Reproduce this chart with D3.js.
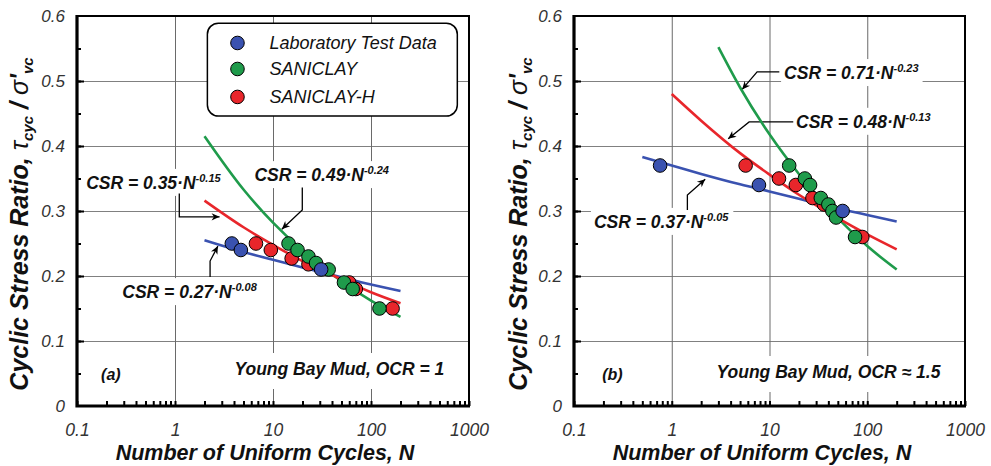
<!DOCTYPE html>
<html><head><meta charset="utf-8">
<script src="https://cdn.jsdelivr.net/npm/d3@7"></script>
<style>body{margin:0;background:#fff} svg{display:block;font-family:"Liberation Sans",Arial,sans-serif}</style>
</head><body><svg id="c" width="991" height="466"></svg>
<script>
// ---------------- data ----------------
const legendLabels = ["Laboratory Test Data", "SANICLAY", "SANICLAY-H"];
const xTickValues = [0.1, 1, 10, 100, 1000];
const xTickLabels = ["0.1", "1", "10", "100", "1000"];
const yTickValues = [0, 0.1, 0.2, 0.3, 0.4, 0.5, 0.6];
const yTickLabels = ["0", "0.1", "0.2", "0.3", "0.4", "0.5", "0.6"];
const panelTags = ["(a)", "(b)"];
const panelSoils = ["Young Bay Mud, OCR = 1", "Young Bay Mud, OCR \u2248 1.5"];

// Panel (a) measured points
const aLabN = [3.8, 4.7, 31];
const aLabCSR = [0.25, 0.24, 0.21];
const aSanN = [14.4, 17.8, 23, 27.5, 37, 53, 65, 122];
const aSanCSR = [0.25, 0.24, 0.23, 0.22, 0.21, 0.19, 0.18, 0.15];
const aSanHN = [6.7, 9.5, 15.5, 23, 60, 70, 166];
const aSanHCSR = [0.25, 0.24, 0.227, 0.218, 0.19, 0.18, 0.15];
// Panel (a) fitted curves
const aLabFitN = [2, 5, 10, 20, 50, 100, 200];
const aLabFit = [0.255, 0.237, 0.225, 0.213, 0.198, 0.187, 0.177];
const aSanFitN = [2, 5, 10, 20, 50, 100, 200];
const aSanFit = [0.415, 0.333, 0.282, 0.239, 0.192, 0.162, 0.137];
const aSanHFitN = [2, 5, 10, 20, 50, 100, 200];
const aSanHFit = [0.316, 0.275, 0.248, 0.223, 0.195, 0.175, 0.158];

// Panel (b) measured points
const bLabN = [0.76, 7.8, 56];
const bLabCSR = [0.37, 0.34, 0.30];
const bSanN = [15.9, 23, 26, 33.5, 40, 44, 48, 75];
const bSanCSR = [0.37, 0.35, 0.34, 0.32, 0.31, 0.30, 0.29, 0.26];
const bSanHN = [5.7, 12.5, 18.6, 27.5, 36, 89];
const bSanHCSR = [0.37, 0.35, 0.34, 0.32, 0.31, 0.26];
// Panel (b) fitted curves
const bLabFitN = [0.5, 1, 2, 5, 10, 20, 50, 100, 200];
const bLabFit = [0.383, 0.370, 0.357, 0.341, 0.330, 0.319, 0.304, 0.294, 0.284];
const bSanFitN = [3, 5, 10, 20, 50, 100, 200];
const bSanFit = [0.552, 0.490, 0.418, 0.357, 0.289, 0.246, 0.210];
const bSanHFitN = [1, 2, 5, 10, 20, 50, 100, 200];
const bSanHFit = [0.480, 0.439, 0.389, 0.356, 0.325, 0.289, 0.264, 0.241];

// Fit equation labels
const aFitText = ["CSR = 0.27\u00B7N", "CSR = 0.49\u00B7N", "CSR = 0.35\u00B7N"];
const aFitExp = ["-0.08", "-0.24", "-0.15"];
const bFitText = ["CSR = 0.37\u00B7N", "CSR = 0.71\u00B7N", "CSR = 0.48\u00B7N"];
const bFitExp = ["-0.05", "-0.23", "-0.13"];

// ---------------- styles / layout ----------------
const colors = ["#3a52b0", "#1f9b4b", "#e8262b"];
const svg = d3.select("#c");
const Y0 = 406, Y1 = 16;

svg.append("defs").append("marker")
  .attr("id", "arr").attr("viewBox", "0 0 10 10").attr("refX", 10).attr("refY", 5)
  .attr("markerWidth", 10).attr("markerHeight", 8).attr("markerUnits", "userSpaceOnUse")
  .attr("orient", "auto")
  .append("path").attr("d", "M0,0.5 L10,5 L0,9.5 L3,5 z").attr("fill", "#000");

const panels = [
  { x0: 77, x1: 469, ytx: 28,
    pts: [[aLabN, aLabCSR], [aSanN, aSanCSR], [aSanHN, aSanHCSR]],
    fits: [[aLabFitN, aLabFit], [aSanFitN, aSanFit], [aSanHFitN, aSanHFit]],
    ann: [
      { t: aFitText[2], s: aFitExp[2], at: [0.124, 0.334], lead: [[1.106, 0.327], [1.106, 0.291], [2.85, 0.291]] },
      { t: aFitText[1], s: aFitExp[1], at: [6.47, 0.346], lead: [[19.9, 0.336], [19.9, 0.3015], [12.3, 0.272]] },
      { t: aFitText[0], s: aFitExp[0], at: [0.29, 0.166], lead: [[2.28, 0.1985], [2.28, 0.223], [2.74, 0.246]] }
    ], tag: panelTags[0], soil: panelSoils[0], legend: true },
  { x0: 574, x1: 965, ytx: 527,
    pts: [[bLabN, bLabCSR], [bSanN, bSanCSR], [bSanHN, bSanHCSR]],
    fits: [[bLabFitN, bLabFit], [bSanFitN, bSanFit], [bSanHFitN, bSanHFit]],
    ann: [
      { t: bFitText[1], s: bFitExp[1], at: [14.1, 0.503], lead: [[12.6, 0.514], [7.47, 0.514], [5.25, 0.487]] },
      { t: bFitText[2], s: bFitExp[2], at: [18.7, 0.428], lead: [[17.5, 0.437], [6.19, 0.437], [3.78, 0.411]] },
      { t: bFitText[0], s: bFitExp[0], at: [0.16, 0.274], lead: [[1.445, 0.3015], [1.445, 0.3246], [2.2, 0.349]] }
    ], tag: panelTags[1], soil: panelSoils[1], legend: false }
];

panels.forEach(p => {
  const x = d3.scaleLog().domain([0.1, 1000]).range([p.x0, p.x1]);
  const y = d3.scaleLinear().domain([0, 0.6]).range([Y0, Y1]);
  const g = svg.append("g");
  const pw = p.x1 - p.x0, ph = Y0 - Y1;

  // gridlines
  const gh = g.append("g").attr("transform", `translate(${p.x0},0)`)
    .call(d3.axisLeft(y).tickValues(yTickValues.slice(1, 6)).tickSize(-pw).tickFormat(""));
  gh.select(".domain").remove();
  gh.selectAll("line").attr("stroke", "#808080").attr("stroke-width", 1);
  const gv = g.append("g").attr("transform", `translate(0,${Y0})`)
    .call(d3.axisBottom(x).tickValues(xTickValues.slice(1, 4)).tickSize(-ph).tickFormat(""));
  gv.select(".domain").remove();
  gv.selectAll("line").attr("stroke", "#6a6a6a").attr("stroke-width", 1);

  // annotation white boxes + texts (boxes hide gridlines)
  const annG = g.append("g");
  function boxedText(gg, node, padL, padR, padT, padB) {
    const b = node.getBBox();
    gg.insert("rect", ":first-child").attr("x", b.x - padL).attr("y", b.y - padT)
      .attr("width", b.width + padL + padR).attr("height", b.height + padT + padB).attr("fill", "#fff");
  }
  p.ann.forEach(a => {
    const tg = annG.append("g");
    const t = tg.append("text").attr("x", x(a.at[0])).attr("y", y(a.at[1]))
      .attr("font-size", 17.5).attr("font-weight", "bold").attr("font-style", "italic").attr("fill", "#111");
    t.append("tspan").text(a.t);
    t.append("tspan").attr("dy", -7).attr("font-size", 11).text(a.s);
    boxedText(tg, t.node(), 3, 4, 3, 3);
  });
  // panel tag & soil text
  const sg = g.append("g");
  const st = sg.append("text").attr("x", x(560)).attr("y", y(0.0477) + (p.legend ? 0 : 3))
    .attr("text-anchor", "end").attr("font-size", 17.5).attr("font-weight", "bold")
    .attr("font-style", "italic").attr("fill", "#111").text(p.soil);
  boxedText(sg, st.node(), 4, 4, 6, 10);
  g.append("text").attr("x", x(p.legend ? 0.176 : 0.194)).attr("y", y(0.04))
    .attr("font-size", 16).attr("font-weight", "bold").attr("font-style", "italic").attr("fill", "#111").text(p.tag);

  // leaders
  const lineGen = d3.line().x(d => x(d[0])).y(d => y(d[1]));
  p.ann.forEach(a => {
    g.append("path").attr("d", lineGen(a.lead)).attr("fill", "none").attr("stroke", "#000")
      .attr("stroke-width", 1.3).attr("marker-end", "url(#arr)");
  });

  // legend
  if (p.legend) {
    const lg = g.append("g");
    lg.append("rect").attr("x", x(2.14)).attr("y", y(0.589)).attr("width", x(760) - x(2.14))
      .attr("height", y(0.446) - y(0.589)).attr("rx", 11).attr("fill", "#fff")
      .attr("stroke", "#000").attr("stroke-width", 1.5);
    const ly = [0.5585, 0.5185, 0.4755];
    legendLabels.forEach((L, i) => {
      lg.append("circle").attr("cx", x(4.34)).attr("cy", y(ly[i])).attr("r", 6.8)
        .attr("fill", colors[i]).attr("stroke", "#000").attr("stroke-width", 1);
      lg.append("text").attr("x", x(9.2)).attr("y", y(ly[i]) + 6).attr("font-size", 18)
        .attr("font-style", "italic").attr("fill", "#111").text(L);
    });
  }

  // fitted curves
  const curve = d3.line().x(d => x(d[0])).y(d => y(d[1])).curve(d3.curveMonotoneX);
  p.fits.forEach((f, i) => {
    g.append("path").attr("d", curve(f[0].map((n, k) => [n, f[1][k]])))
      .attr("fill", "none").attr("stroke", colors[i]).attr("stroke-width", 2.6);
  });

  // points: red, green, blue draw order
  [2, 1, 0].forEach(i => {
    const [ns, vs] = p.pts[i];
    g.append("g").selectAll("circle").data(ns.map((n, k) => [n, vs[k]])).join("circle")
      .attr("cx", d => x(d[0])).attr("cy", d => y(d[1])).attr("r", 6.8)
      .attr("fill", colors[i]).attr("stroke", "#000").attr("stroke-width", 1);
  });

  // ticks (inward)
  const tl = g.append("g").attr("transform", `translate(${p.x0},0)`)
    .call(d3.axisLeft(y).tickValues(d3.range(1, 12).map(k => k * 0.05)).tickSize(-4).tickFormat(""));
  tl.select(".domain").remove();
  tl.selectAll("line").attr("stroke-width", 2);
  const tlm = g.append("g").attr("transform", `translate(${p.x0},0)`)
    .call(d3.axisLeft(y).tickValues(yTickValues.slice(1, 6)).tickSize(-7).tickFormat(""));
  tlm.select(".domain").remove();
  tlm.selectAll("line").attr("stroke-width", 2);
  const tb = g.append("g").attr("transform", `translate(0,${Y0})`)
    .call(d3.axisBottom(x).tickValues(x.ticks()).tickSize(-5).tickFormat(""));
  tb.select(".domain").remove();
  tb.selectAll("line").attr("stroke-width", 2);

  // frame
  g.append("rect").attr("x", p.x0).attr("y", Y1).attr("width", pw).attr("height", ph)
    .attr("fill", "none").attr("stroke", "#000").attr("stroke-width", 2);
  g.append("path").attr("d", `M${p.x0},${Y1 - 1}V${Y0}H${p.x1 + 1}`).attr("fill", "none")
    .attr("stroke", "#000").attr("stroke-width", 3.2);

  // tick labels
  const yl = g.append("g").attr("transform", `translate(${p.x0},0)`)
    .call(d3.axisLeft(y).tickValues(yTickValues).tickFormat((d, i) => yTickLabels[i]).tickSize(0).tickPadding(12));
  yl.select(".domain").remove();
  yl.selectAll("text").attr("font-size", 17).attr("font-style", "italic").attr("fill", "#333")
    .attr("font-family", '"Liberation Sans",Arial,sans-serif');
  const xl = g.append("g").attr("transform", `translate(0,${Y0})`)
    .call(d3.axisBottom(x).tickValues(xTickValues).tickFormat((d, i) => xTickLabels[i]).tickSize(0).tickPadding(18));
  xl.select(".domain").remove();
  xl.selectAll("text").attr("font-size", 17.5).attr("font-style", "italic").attr("fill", "#333")
    .attr("font-family", '"Liberation Sans",Arial,sans-serif');

  // axis titles
  g.append("text").attr("x", p.x0 + 188).attr("y", 460).attr("text-anchor", "middle")
    .attr("font-size", 21.5).attr("font-weight", "bold").attr("font-style", "italic").attr("fill", "#111")
    .text("Number of Uniform Cycles, N");
  const yt = g.append("text").attr("transform", `translate(${p.ytx},224) rotate(-90)`)
    .attr("text-anchor", "middle").attr("font-size", 25).attr("font-weight", "bold")
    .attr("font-style", "italic").attr("fill", "#111");
  yt.append("tspan").text("Cyclic Stress Ratio, ");
  yt.append("tspan").attr("font-weight", "normal").text("\u03C4");
  yt.append("tspan").attr("font-size", 15).attr("dy", 5).text("cyc");
  yt.append("tspan").attr("dy", -5).text(" / ");
  yt.append("tspan").attr("font-weight", "normal").text("\u03C3");
  yt.append("tspan").text("'");
  yt.append("tspan").attr("font-size", 15).attr("dy", 5).text("vc");
});
</script>
</body></html>
